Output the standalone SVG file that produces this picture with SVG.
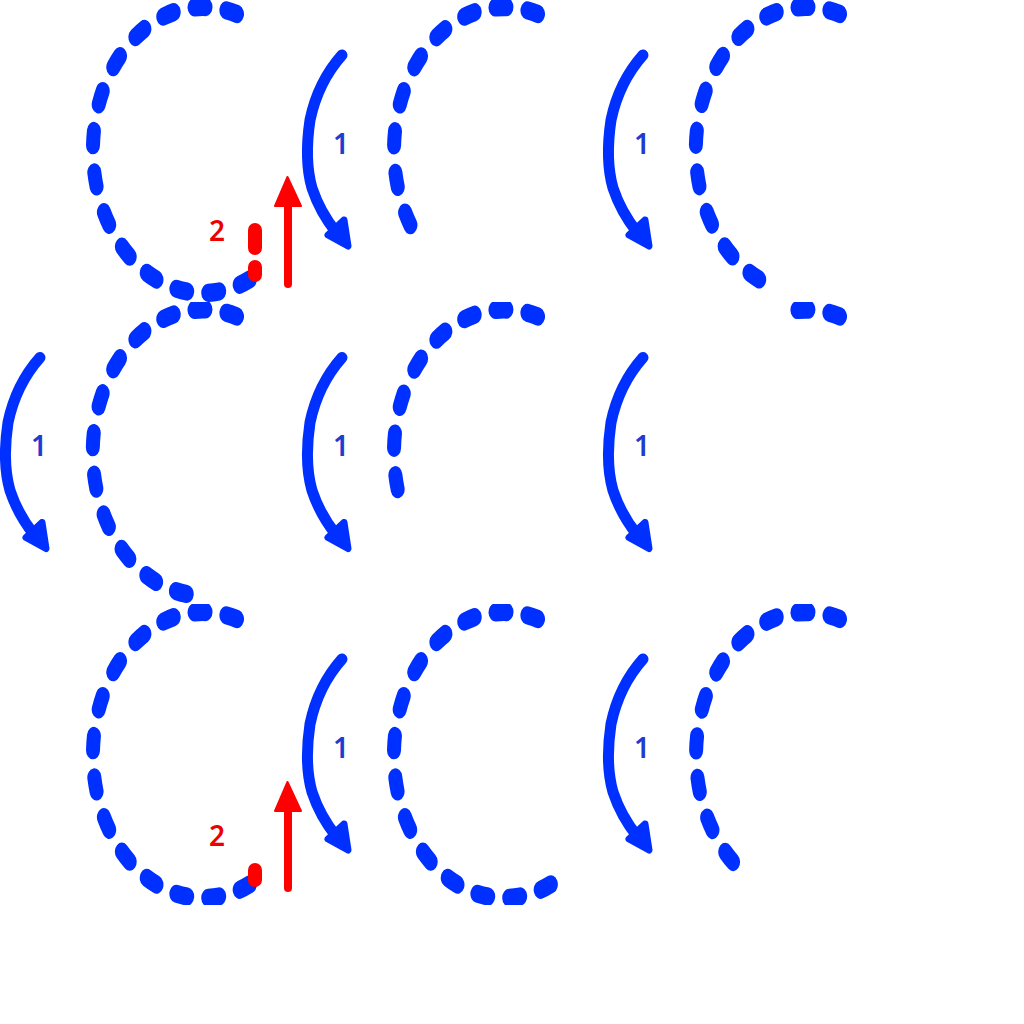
<svg xmlns="http://www.w3.org/2000/svg" width="1024" height="1024" viewBox="0 0 1024 1024">
<style>
.arc{fill:none;stroke:#0030ff;stroke-width:14;stroke-linecap:round;stroke-dasharray:11 21.1}
.a1{fill:none;stroke:#0030ff;stroke-width:11;stroke-linecap:round;stroke-linejoin:round}
.a1h{fill:#0030ff;stroke:#0030ff;stroke-width:7;stroke-linejoin:round}
.red{fill:none;stroke:#ff0000;stroke-linecap:round}
.redh{fill:#ff0000;stroke:#ff0000;stroke-width:2;stroke-linejoin:round}
.l1{font-family:"Noto Sans","Open Sans",sans-serif;font-size:28px;font-weight:600;fill:#1f3bd0;text-anchor:middle}
.l2{font-family:"Noto Sans","Open Sans",sans-serif;font-size:28px;font-weight:600;fill:#ee0000;text-anchor:middle}
</style>
<defs>
<clipPath id="row0"><rect x="0" y="0" width="1024" height="302"/></clipPath>
<clipPath id="row1"><rect x="0" y="302" width="1024" height="302"/></clipPath>
<clipPath id="row2"><rect x="0" y="604" width="1024" height="301"/></clipPath>
<g id="arrow1shape">
<path class="a1" d="M342,55 Q318,82 310,120 Q304,160 312,188 Q320,212 336,232"/>
<polygon class="a1h" points="344,220 328,235 348,246"/>
</g>
</defs>
<rect width="1024" height="1024" fill="#ffffff"/>

<g id="ring-r0c0" clip-path="url(#row0)"><path class="arc" transform="translate(203,150) scale(1,1.3)" d="M34,-104.6 A110,110 0 1 0 52,96.9"/></g>
<g id="ring-r0c1" clip-path="url(#row0)"><path class="arc" transform="translate(504,150) scale(1,1.3)" d="M34,-104.6 A110,110 0 0 0 -90.5,62.5"/></g>
<g id="ring-r0c2" clip-path="url(#row0)"><path class="arc" transform="translate(806,150) scale(1,1.3)" d="M34,-104.6 A110,110 0 0 0 -41,102.1"/></g>

<g id="ring-r1c0" clip-path="url(#row1)"><path class="arc" transform="translate(203,452.5) scale(1,1.3)" d="M34,-104.6 A110,110 0 1 0 -10,109.5"/></g>
<g id="ring-r1c1" clip-path="url(#row1)"><path class="arc" transform="translate(504,452.5) scale(1,1.3)" d="M34,-104.6 A110,110 0 0 0 -104.7,33.8"/></g>
<g id="ring-r1c2" clip-path="url(#row1)"><path class="arc" transform="translate(806,452.5) scale(1,1.3)" d="M34,-104.6 A110,110 0 0 0 -14.5,-109"/></g>

<g id="ring-r2c0" clip-path="url(#row2)"><path class="arc" transform="translate(203,755) scale(1,1.3)" d="M34,-104.6 A110,110 0 1 0 52,96.9"/></g>
<g id="ring-r2c1" clip-path="url(#row2)"><path class="arc" transform="translate(504,755) scale(1,1.3)" d="M34,-104.6 A110,110 0 1 0 52,96.9"/></g>
<g id="ring-r2c2" clip-path="url(#row2)"><path class="arc" transform="translate(806,755) scale(1,1.3)" d="M34,-104.6 A110,110 0 0 0 -68.8,85.8"/></g>

<g id="connectors">
<use href="#arrow1shape" transform="translate(0,0)"/>
<use href="#arrow1shape" transform="translate(301,0)"/>
<use href="#arrow1shape" transform="translate(-302,302.5)"/>
<use href="#arrow1shape" transform="translate(0,302.5)"/>
<use href="#arrow1shape" transform="translate(301,302.5)"/>
<use href="#arrow1shape" transform="translate(0,604)"/>
<use href="#arrow1shape" transform="translate(301,604)"/>
<path class="red" stroke-width="14" stroke-dasharray="18 19" d="M255,230 V275"/>
<path class="red" stroke-width="8" d="M288,284 V203"/>
<polygon class="redh" points="287.5,177 275,206 301,206"/>
<path class="red" stroke-width="14" d="M255,870 V880"/>
<path class="red" stroke-width="8" d="M288,888 V808"/>
<polygon class="redh" points="287.5,782 275,811 301,811"/>
</g>

<g id="labels">
<text class="l1" x="341" y="154">1</text>
<text class="l1" x="642" y="154">1</text>
<text class="l1" x="39" y="456">1</text>
<text class="l1" x="341" y="456">1</text>
<text class="l1" x="642" y="456">1</text>
<text class="l1" x="341" y="758">1</text>
<text class="l1" x="642" y="758">1</text>
<text class="l2" x="217" y="241">2</text>
<text class="l2" x="217" y="846">2</text>
</g>
</svg>
